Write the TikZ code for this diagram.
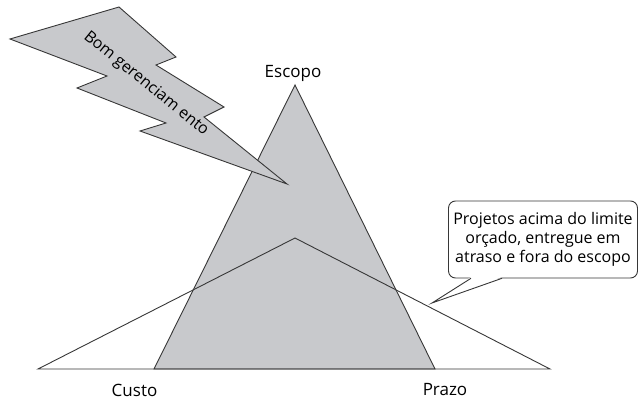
\documentclass[tikz,border=0pt]{standalone}
\usepackage{fontspec}
\setmainfont{Open Sans}
\begin{document}
\begin{tikzpicture}[x=1pt,y=-1pt,line join=miter]
\definecolor{shade}{RGB}{200,201,204}
\definecolor{ink}{RGB}{55,55,55}
\tikzset{
  shape line/.style={draw=ink, line width=0.9pt},
  greyfill/.style={fill=shade},
  lbl/.style={font=\fontsize{17}{20}\selectfont, inner sep=0pt},
  calltext/.style={font=\fontsize{16}{19}\selectfont, inner sep=0pt},
}
\useasboundingbox (0,0) rectangle (642,401);
% grey scope triangle
\draw[shape line, greyfill] (295,85) -- (435,369) -- (154,369) -- cycle;
% white cost/time triangle outline
\draw[shape line] (38,369) -- (295,238) -- (550,369) -- cycle;
% lightning bolt
\draw[shape line, greyfill] (10,39) -- (119,7) -- (176,57) -- (156,65) -- (224,107) -- (204,117) -- (287,184)
   -- (140,131) -- (166,123) -- (77,88) -- (107,76) -- cycle;
\node[calltext, rotate=-39] (bom) at (146,84) {Bom gerenciam ento};
% labels
\node[lbl] (escopo) at (293,73) {Escopo};
\node[lbl] (custo) at (134.5,390) {Custo};
\node[lbl] (prazo) at (445,390) {Prazo};
% callout
\node[calltext, draw=ink, line width=0.9pt, fill=white, rounded corners=7pt, align=center,
      minimum width=189pt, minimum height=77pt] (callout) at (543,239.5)
  {Projetos acima do limite\\orçado, entregue em\\atraso e fora do escopo};
\coordinate (tip) at (432,303);
\fill[white] (471,277) -- (tip) -- (502,277) -- cycle;
\draw[shape line] (471,278.3) -- (tip) -- (502,278.3);
\end{tikzpicture}
\end{document}
